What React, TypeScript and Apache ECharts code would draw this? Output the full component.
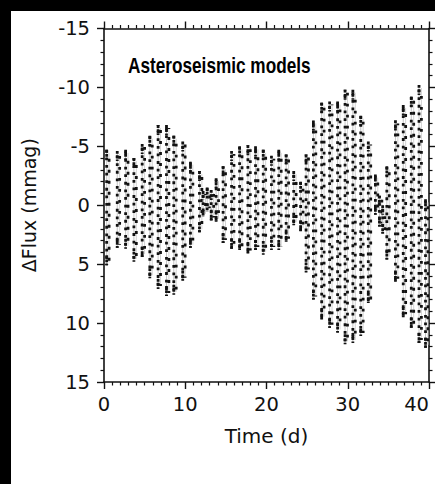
import React, { useEffect, useRef } from "react";
import * as echarts from "echarts";

// One entry per oscillation column of the light curve: time (d) and the
// brightest / faintest excursion reached in that column (mmag).
const colTime = [
  0.33, 1.63, 2.66, 3.68, 4.7, 5.64, 6.66, 7.69, 8.59, 9.69,
  10.64, 11.75, 12.2, 12.7, 13.2, 13.8, 14.66, 15.7, 16.69, 17.71,
  18.65, 19.6, 20.61, 21.51, 22.42, 23.35, 24.2, 24.87, 25.77, 26.79,
  27.77, 28.75, 29.67, 30.63, 31.6, 32.53, 33.4, 33.9, 34.3, 34.81,
  35.87, 36.83, 37.82, 38.77, 39.57,
];
const colMin = [
  -4.7, -4.6, -4.7, -4.0, -5.2, -5.9, -6.8, -6.8, -5.9, -5.4,
  -3.7, -2.9, -1.2, -1.5, -1.3, -2.3, -3.3, -4.6, -5.0, -5.1,
  -5.0, -4.7, -4.2, -4.7, -4.3, -2.9, -2.0, -4.3, -7.2, -8.7,
  -8.8, -8.8, -9.8, -9.8, -7.6, -5.4, -2.6, -0.8, 0.0, -3.3,
  -7.2, -8.5, -9.2, -10.2, -0.5,
];
const colMax = [
  5.1, 3.6, 3.7, 4.8, 4.4, 6.2, 7.1, 7.7, 7.6, 6.4,
  3.6, 2.3, 1.0, 0.5, 1.3, 1.4, 3.2, 3.7, 3.8, 4.1,
  3.8, 4.2, 3.8, 3.8, 3.1, 1.7, 2.2, 5.7, 8.0, 9.7,
  10.4, 10.8, 11.8, 11.7, 11.1, 8.3, 0.8, 1.8, 2.4, 4.6,
  6.5, 9.5, 10.4, 11.7, 12.1,
];

const timeTicks = [0, 10, 20, 30, 40];
const fluxTicks = [-15, -10, -5, 0, 5, 10, 15];

const TITLE = "Asteroseismic models";
const X_NAME = "Time (d)";
const Y_NAME = "\u0394Flux (mmag)";

const FONT = "DejaVu Sans";
const INK = "#111";
const DOT = "#121212";

export default function App() {
  const ref = useRef<HTMLDivElement>(null);

  useEffect(() => {
    if (!ref.current) return;
    const chart = echarts.init(ref.current, undefined, { renderer: "svg" });

    const columns = colTime.map((t, i) => [t, colMin[i], colMax[i]]);

    const tickStyle = { show: true, length: 7, lineStyle: { color: INK, width: 1.4 } };
    const minorStyle = (n: number) => ({
      show: true,
      splitNumber: n,
      length: 3.5,
      lineStyle: { color: INK, width: 1.2 },
    });
    const lineStyle = { show: true, onZero: false, lineStyle: { color: INK, width: 1.6 } };

    const xBase = {
      type: "value" as const,
      min: timeTicks[0],
      max: timeTicks[timeTicks.length - 1],
      interval: 10,
      splitLine: { show: false },
      axisLine: lineStyle,
      axisTick: tickStyle,
      minorTick: minorStyle(10),
    };
    const yBase = {
      type: "value" as const,
      min: fluxTicks[0],
      max: fluxTicks[fluxTicks.length - 1],
      interval: 5,
      inverse: true,
      splitLine: { show: false },
      axisLine: lineStyle,
      axisTick: tickStyle,
      minorTick: minorStyle(5),
    };

    chart.setOption({
      animation: false,
      backgroundColor: "#fff",
      grid: {
        left: 104,
        right: 6,
        top: 28.5,
        bottom: 102,
        containLabel: false,
        outerBoundsMode: "none",
      },
      xAxis: [
        {
          ...xBase,
          position: "bottom",
          name: X_NAME,
          nameLocation: "middle",
          nameGap: 44,
          nameTextStyle: { fontFamily: FONT, fontSize: 20, color: INK },
          axisLabel: {
            fontFamily: FONT,
            fontSize: 19.5,
            color: INK,
            margin: 12,
            alignMaxLabel: "right",
          },
        },
        {
          ...xBase,
          position: "top",
          axisLabel: { show: false },
        },
      ],
      yAxis: [
        {
          ...yBase,
          position: "left",
          name: Y_NAME,
          nameLocation: "middle",
          nameGap: 66,
          nameTextStyle: { fontFamily: FONT, fontSize: 19, color: INK },
          axisLabel: { fontFamily: FONT, fontSize: 19.5, color: INK, margin: 14 },
        },
        {
          ...yBase,
          position: "right",
          axisLabel: { show: false },
        },
      ],
      graphic: [
        { type: "rect", shape: { x: 0, y: 0, width: 435, height: 11 }, style: { fill: "#000" }, z: 100 },
        { type: "rect", shape: { x: 0, y: 0, width: 11, height: 484 }, style: { fill: "#000" }, z: 100 },
        {
          type: "text",
          x: 128,
          y: 65.5,
          scaleX: 0.765,
          z: 100,
          style: {
            text: TITLE,
            font: 'bold 22.5px "Liberation Sans", Arial, sans-serif',
            fill: "#000",
            textAlign: "left",
            textVerticalAlign: "middle",
          },
        },
      ],
      series: [
        {
          type: "custom",
          xAxisIndex: 0,
          yAxisIndex: 0,
          data: columns,
          encode: { x: 0, y: [1, 2] },
          clip: true,
          renderItem: (params: any, api: any) => {
            const t = api.value(0);
            const a = api.coord([t, api.value(1)]);
            const b = api.coord([t, api.value(2)]);
            const seg = { x1: a[0], y1: a[1], x2: b[0], y2: b[1] };
            const seg2 = { x1: a[0] + 2.4, y1: a[1] + 3, x2: b[0] + 2.4, y2: b[1] - 3 };
            const capLen = Math.min(10, Math.abs(b[1] - a[1]) / 3);
            const k = params.dataIndex;
            const dots = { stroke: DOT, lineWidth: 2.8 };
            return {
              type: "group",
              children: [
                // faint connecting trace between successive samples
                { type: "line", shape: seg, style: { stroke: "#c4c4c4", lineWidth: 1 } },
                { type: "line", shape: seg2, style: { stroke: "#d2d2d2", lineWidth: 1 } },
                // individual samples from two neighbouring cycles
                {
                  type: "line",
                  shape: seg,
                  style: { ...dots, lineDash: [2.8, 4.8], lineDashOffset: (k * 2.9) % 7.6 },
                },
                {
                  type: "line",
                  shape: seg2,
                  style: { ...dots, lineDash: [2.8, 8.2], lineDashOffset: (k * 4.3 + 5) % 11 },
                },
                // samples crowd near the turning points of each swing
                {
                  type: "line",
                  shape: { x1: a[0], y1: a[1], x2: a[0], y2: a[1] + capLen },
                  style: { ...dots, lineDash: [2.8, 1.4] },
                },
                {
                  type: "line",
                  shape: { x1: b[0], y1: b[1] - capLen, x2: b[0], y2: b[1] },
                  style: { ...dots, lineDash: [2.8, 1.4] },
                },
              ],
            };
          },
        },
      ],
    });

    return () => chart.dispose();
  }, []);

  return (
    <div
      ref={ref}
      style={{ position: "fixed", left: 0, top: 0, width: 435, height: 484, background: "#fff" }}
    />
  );
}
